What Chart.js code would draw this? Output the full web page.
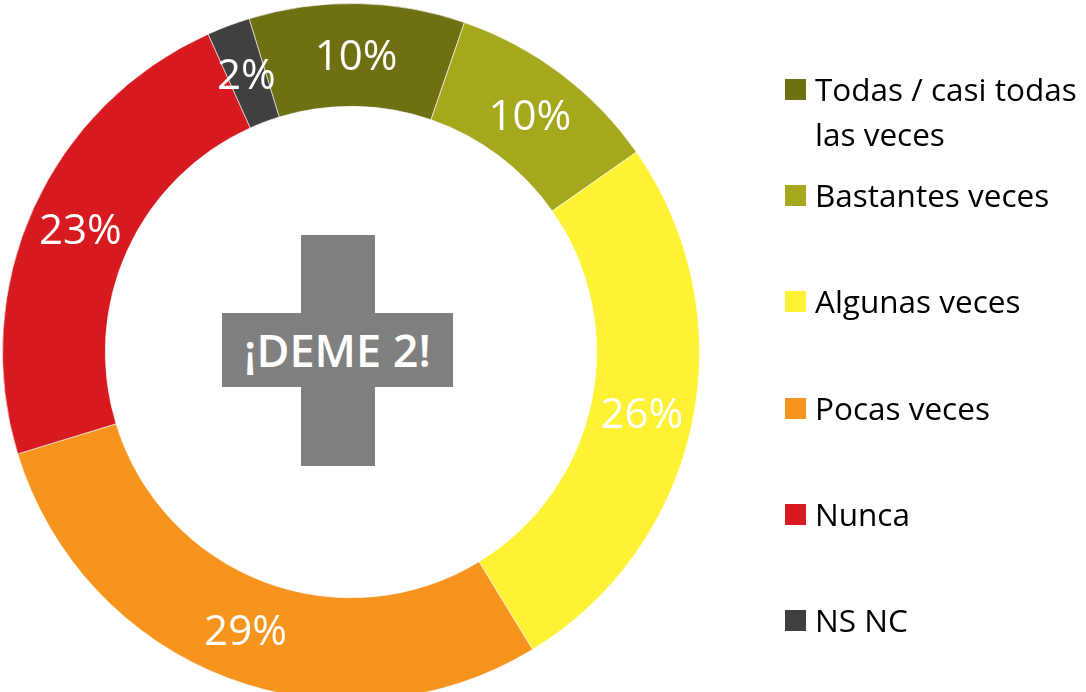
<!DOCTYPE html>
<html>
<head>
<meta charset="utf-8">
<script src="https://cdn.jsdelivr.net/npm/chart.js@4.4.0/dist/chart.umd.min.js"></script>
<style>
  html, body { margin: 0; padding: 0; background: #fff; overflow: hidden; }
  #wrap { position: relative; width: 1086px; height: 692px; overflow: hidden; }
  #c { position: absolute; left: 0; top: 0; }
  .cross-v { position: absolute; left: 301px; top: 235px; width: 74px; height: 231px; background: #808080; }
  .cross-h { position: absolute; left: 222px; top: 313px; width: 231px; height: 74px; background: #808080;
             color: #fff; font: 600 45px "Open Sans", sans-serif; text-align: center; line-height: 74px; }
  #legend { position: absolute; left: 785px; top: 0; }
  .item { position: absolute; left: 0; width: 300px; }
  .box { position: absolute; left: 0; top: 0; width: 21px; height: 21px; }
  .txt { position: absolute; left: 30px; top: -13px; width: 275px; font: 31.5px "Open Sans", sans-serif;
         line-height: 45px; color: #000; }
</style>
</head>
<body>
<div id="wrap">
  <canvas id="c" width="1086" height="704"></canvas>
  <div class="cross-v"></div>
  <div class="cross-h">¡DEME 2!</div>
  <div id="legend"></div>
</div>
<script>
  // valores
  const categorias = ['Todas / casi todas las veces', 'Bastantes veces', 'Algunas veces', 'Pocas veces', 'Nunca', 'NS NC'];
  const valores = [10, 10, 26, 29, 23, 2];
  const etiquetas = ['10%', '10%', '26%', '29%', '23%', '2%'];
  const colores = ['#6e7012', '#a5a81c', '#fff133', '#f7941e', '#d71920', '#404040'];

  // etiquetas blancas en el centro de cada sector
  const etiquetasPlugin = {
    id: 'etiquetas',
    afterDatasetsDraw(chart) {
      const ctx = chart.ctx;
      const meta = chart.getDatasetMeta(0);
      ctx.save();
      ctx.fillStyle = '#fff';
      ctx.font = '42px "Open Sans", sans-serif';
      ctx.textAlign = 'center';
      ctx.textBaseline = 'middle';
      meta.data.forEach(function (arc, i) {
        const p = arc.tooltipPosition();
        ctx.fillText(etiquetas[i], p.x, p.y + 3);
      });
      ctx.restore();
    }
  };

  new Chart(document.getElementById('c'), {
    type: 'doughnut',
    data: {
      labels: categorias,
      datasets: [{
        data: valores,
        backgroundColor: colores,
        borderColor: 'rgba(255,255,255,0.6)',
        borderWidth: 1
      }]
    },
    options: {
      responsive: false,
      animation: false,
      rotation: -17,
      cutout: '70.5%',
      layout: { padding: { left: 2, right: 386, top: 3, bottom: 3 } },
      plugins: {
        legend: { display: false },
        tooltip: { enabled: false }
      }
    },
    plugins: [etiquetasPlugin]
  });

  // leyenda html
  const legend = document.getElementById('legend');
  categorias.forEach(function (cat, i) {
    const item = document.createElement('div');
    item.className = 'item';
    item.style.top = (79 + i * 106.2) + 'px';
    const box = document.createElement('div');
    box.className = 'box';
    box.style.background = colores[i];
    const txt = document.createElement('div');
    txt.className = 'txt';
    txt.textContent = cat;
    item.appendChild(box);
    item.appendChild(txt);
    legend.appendChild(item);
  });
</script>
</body>
</html>
